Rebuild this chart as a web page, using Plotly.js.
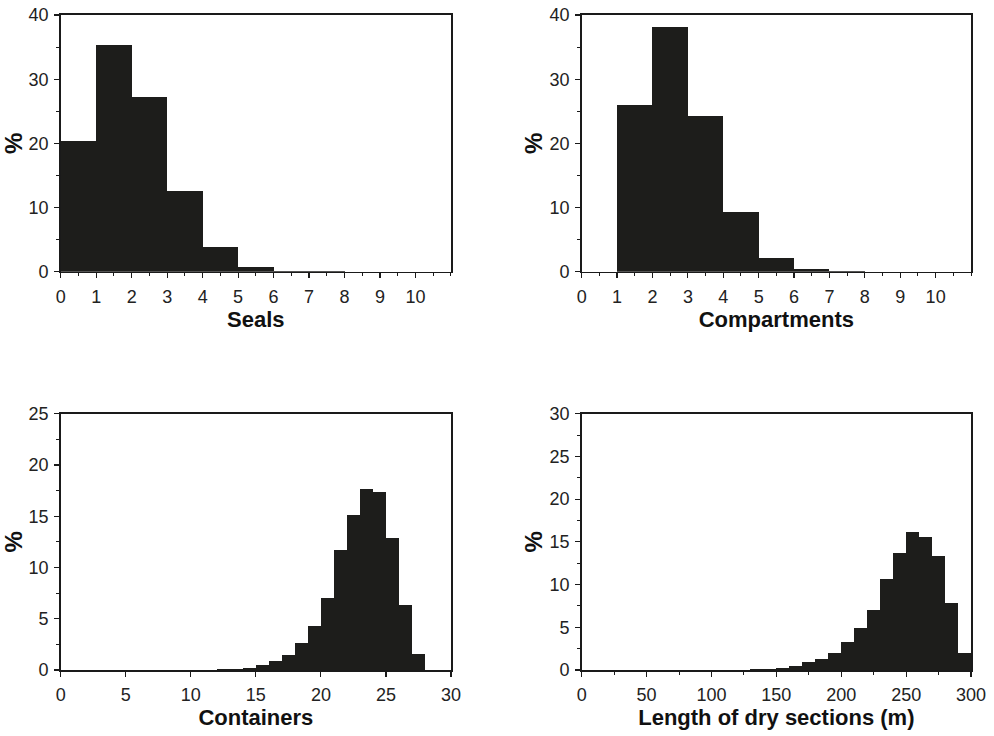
<!DOCTYPE html>
<html>
<head>
<meta charset="utf-8">
<script src="https://cdn.plot.ly/plotly-3.0.1.min.js"></script>
<style>html,body{margin:0;padding:0;background:#fff;}#chart{width:994px;height:736px;}</style>
</head>
<body>
<div id="chart"></div>
<script>
// ---- Data (percent of simulations per bin; x = left edge of bin) ----
const sealsBins = [0, 1, 2, 3, 4, 5, 6, 7, 8, 9, 10];
const sealsPct = [20.3, 35.3, 27.3, 12.6, 3.9, 0.8, 0.15, 0.05, 0.03, 0.02, 0.02];

const compBins = [0, 1, 2, 3, 4, 5, 6, 7, 8, 9, 10];
const compPct = [0, 26.0, 38.1, 24.3, 9.35, 2.2, 0.4, 0.08, 0.03, 0.02, 0.02];

const contBins = [0, 1, 2, 3, 4, 5, 6, 7, 8, 9, 10, 11, 12, 13, 14, 15, 16, 17, 18, 19, 20, 21, 22, 23, 24, 25, 26, 27, 28, 29];
const contPct = [0, 0, 0, 0, 0, 0, 0, 0, 0, 0, 0.02, 0.03, 0.05, 0.08, 0.22, 0.5, 0.9, 1.5, 2.6, 4.3, 7.05, 11.7, 15.1, 17.7, 17.4, 12.9, 6.3, 1.55, 0, 0];

const dryBins = [0, 10, 20, 30, 40, 50, 60, 70, 80, 90, 100, 110, 120, 130, 140, 150, 160, 170, 180, 190, 200, 210, 220, 230, 240, 250, 260, 270, 280, 290];
const dryPct = [0.02, 0.02, 0.02, 0.02, 0.02, 0.02, 0.02, 0.02, 0.03, 0.03, 0.03, 0.04, 0.05, 0.06, 0.1, 0.2, 0.5, 0.95, 1.3, 1.95, 3.3, 4.9, 7.05, 10.65, 13.7, 16.2, 15.55, 13.4, 7.8, 1.95];

const xTitles = ['Seals', 'Compartments', 'Containers', 'Length of dry sections (m)'];
const yTitle = '%';

// ---- Style ----
const barColor = '#1d1d1b';
const axisColor = '#1a1a1a';
const tickFont = {family: 'Liberation Sans, Arial, sans-serif', size: 18, color: '#222'};
const titleFont = {family: 'Liberation Sans, Arial, sans-serif', size: 22, color: '#111', weight: 'bold'};
const pctFont = {family: 'Liberation Sans, Arial, sans-serif', size: 24, color: '#111', weight: 'bold'};

function barTrace(bins, vals, width, xa, ya) {
  return {
    type: 'bar', x: bins, y: vals, width: width, offset: 0,
    xaxis: xa, yaxis: ya,
    marker: {color: barColor, line: {width: 0}},
    hoverinfo: 'x+y', showlegend: false
  };
}

const data = [
  barTrace(sealsBins, sealsPct, 1, 'x', 'y'),
  barTrace(compBins, compPct, 1, 'x2', 'y2'),
  barTrace(contBins, contPct, 1, 'x3', 'y3'),
  barTrace(dryBins, dryPct, 10, 'x4', 'y4')
];

function xAxis(domain, anchor, range, tickvals, minorDtick, title) {
  const ax = {
    domain: domain, anchor: anchor, range: range,
    tickmode: 'array', tickvals: tickvals, ticktext: tickvals.map(String),
    ticks: 'outside', ticklen: 5, tickwidth: 1.2, tickcolor: axisColor,
    showline: true, linecolor: axisColor, linewidth: 1.6, mirror: true,
    showgrid: false, zeroline: false, tickfont: tickFont, ticklabelstandoff: 3,
    title: {text: title, font: titleFont, standoff: 4}
  };
  if (minorDtick) {
    ax.minor = {dtick: minorDtick, tick0: 0, ticks: 'outside', ticklen: 3, tickwidth: 1, tickcolor: axisColor, showgrid: false};
  }
  return ax;
}
function yAxis(domain, anchor, range, dtick, minorDtick) {
  return {
    domain: domain, anchor: anchor, range: range,
    tickmode: 'linear', tick0: 0, dtick: dtick,
    ticks: 'outside', ticklen: 5, tickwidth: 1.2, tickcolor: axisColor,
    minor: {dtick: minorDtick, tick0: 0, ticks: 'outside', ticklen: 3, tickwidth: 1, tickcolor: axisColor, showgrid: false},
    showline: true, linecolor: axisColor, linewidth: 1.6, mirror: true,
    showgrid: false, zeroline: false, tickfont: tickFont, ticklabelstandoff: 2,
    title: {text: yTitle, font: pctFont, standoff: 0}
  };
}

const xL = [0.0611, 0.4537];
const xR = [0.5852, 0.9769];
const yT = [0.6308, 0.9796];
const yB = [0.0897, 0.4379];

const layout = {
  width: 994, height: 736,
  margin: {l: 0, r: 0, t: 0, b: 0},
  paper_bgcolor: '#fff', plot_bgcolor: '#fff',
  bargap: 0,
  font: {family: 'Liberation Sans, Arial, sans-serif'},
  xaxis: xAxis(xL, 'y', [0, 11], [0,1,2,3,4,5,6,7,8,9,10], 0.5, xTitles[0]),
  yaxis: yAxis(yT, 'x', [0, 40], 10, 5),
  xaxis2: xAxis(xR, 'y2', [0, 11], [0,1,2,3,4,5,6,7,8,9,10], 0.5, xTitles[1]),
  yaxis2: yAxis(yT, 'x2', [0, 40], 10, 5),
  xaxis3: xAxis(xL, 'y3', [0, 30], [0,5,10,15,20,25,30], null, xTitles[2]),
  yaxis3: yAxis(yB, 'x3', [0, 25], 5, 2.5),
  xaxis4: xAxis(xR, 'y4', [0, 300], [0,50,100,150,200,250,300], 25, xTitles[3]),
  yaxis4: yAxis(yB, 'x4', [0, 30], 5, 2.5)
};

Plotly.newPlot('chart', data, layout, {staticPlot: true, displayModeBar: false});
</script>
</body>
</html>
